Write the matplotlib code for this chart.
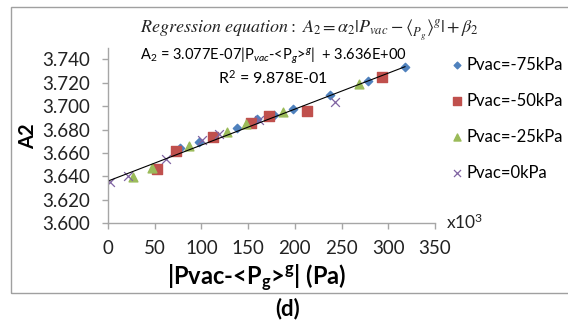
import numpy as np
import matplotlib
matplotlib.use('Agg')
import matplotlib.pyplot as plt
from matplotlib.patches import Rectangle

plt.rcParams['font.family'] = ['Lato', 'DejaVu Sans']
plt.rcParams['mathtext.fontset'] = 'custom'
plt.rcParams['mathtext.rm'] = 'Lato'
plt.rcParams['mathtext.it'] = 'Lato:italic'
plt.rcParams['mathtext.bf'] = 'Lato:bold'

# data, x in kPa (x10^3 Pa)
x_75 = [77, 97, 137.8, 160, 178, 198, 237.5, 278, 317.8]
y_75 = [3.664, 3.669, 3.681, 3.689, 3.6928, 3.698, 3.710, 3.7215, 3.7332]
x_50 = [52, 73.3, 112.5, 152.9, 172.7, 213, 293]
y_50 = [3.6464, 3.6618, 3.6734, 3.6854, 3.6913, 3.6959, 3.7252]
x_25 = [27.2, 47.3, 86.5, 127.3, 148.2, 187.8, 268.5]
y_25 = [3.6398, 3.647, 3.6663, 3.6777, 3.6848, 3.6953, 3.7187]
x_0 = [1.9, 21.3, 62, 100.5, 118.7, 161.8, 242.5]
y_0 = [3.635, 3.6407, 3.6546, 3.6711, 3.6763, 3.6882, 3.7039]

labels = ['Pvac=-75kPa', 'Pvac=-50kPa', 'Pvac=-25kPa', 'Pvac=0kPa']
slope = 3.077e-07   # per Pa
intercept = 3.636

fig = plt.figure(figsize=(5.68, 3.23), dpi=100)
ax = fig.add_axes([0.190, 0.309, 0.576, 0.541])

# regression line over data range
all_x = np.concatenate([x_75, x_50, x_25, x_0])
lx = np.array([all_x.min(), all_x.max()])
ax.plot(lx, intercept + slope * lx * 1e3, color='black', lw=0.8, zorder=3)

ax.scatter(x_75, y_75, marker='D', s=18, color='#4F81BD', label=labels[0], zorder=2)
ax.scatter(x_50, y_50, marker='s', s=45, color='#C0504D', label=labels[1], zorder=2)
ax.scatter(x_25, y_25, marker='^', s=40, color='#9BBB59', label=labels[2], zorder=2)
ax.scatter(x_0, y_0, marker='x', s=40, color='#8064A2', linewidths=0.9, label=labels[3], zorder=2)

ax.set_xlim(0, 350)
ax.set_ylim(3.600, 3.7494)
ax.set_xticks(np.arange(0, 351, 50))
ax.set_yticks(np.arange(3.600, 3.741, 0.02))
ax.set_yticklabels(['%.3f' % v for v in np.arange(3.600, 3.741, 0.02)])
for s in ['top', 'right']:
    ax.spines[s].set_visible(False)
for s in ['left', 'bottom']:
    ax.spines[s].set_color('#A6A6A6')
    ax.spines[s].set_linewidth(1)
ax.tick_params(axis='both', colors='#A6A6A6', labelcolor='#222222', labelsize=13.5, length=4, width=1)
ax.tick_params(axis='y', pad=9)
ax.tick_params(axis='x', pad=8)

ax.set_ylabel('A2', fontsize=14.5, fontweight='bold')
ax.yaxis.set_label_coords(-0.212, 0.5)
ax.set_xlabel(r'|Pvac-<P$\mathbf{_g}$>$\mathbf{^g}$| (Pa)', fontsize=17, fontweight='bold')
ax.xaxis.set_label_coords(0.455, -0.23)

fig.text(0.785, 0.29, r'x10$^3$', fontsize=12.5, color='#222222')

ax.text(0.505, 0.955, r'A$_2$ = 3.077E-07|P$_{vac}$-<P$_g$>$^g$|  + 3.636E+00',
        transform=ax.transAxes, ha='center', va='center', fontsize=10.5)
ax.text(0.505, 0.835, r'R$^2$ = 9.878E-01', transform=ax.transAxes,
        ha='center', va='center', fontsize=11.5)

fig.text(0.545, 0.905,
         r'$\mathit{Regression\ equation{:}}\ A_2 = \alpha_2|P_{vac} - \langle {}^{}_{P_g}\rangle^g| + \beta_2$',
         ha='center', va='center', fontsize=13, math_fontfamily='stix', color='#222222')

leg = ax.legend(loc='upper left', bbox_to_anchor=(0.775, 0.845), bbox_transform=fig.transFigure,
                frameon=False, fontsize=12, handletextpad=0.0, labelspacing=1.2,
                handlelength=1.2, markerscale=0.8, borderaxespad=0)

fig.patches.append(Rectangle((0.019, 0.093), 1.0, 0.885, transform=fig.transFigure,
                             fill=False, edgecolor='#A0A0A0', lw=1))
fig.text(0.507, 0.045, '(d)', ha='center', va='center', fontsize=16, fontweight='bold')

fig.savefig('out.png', dpi=100)
